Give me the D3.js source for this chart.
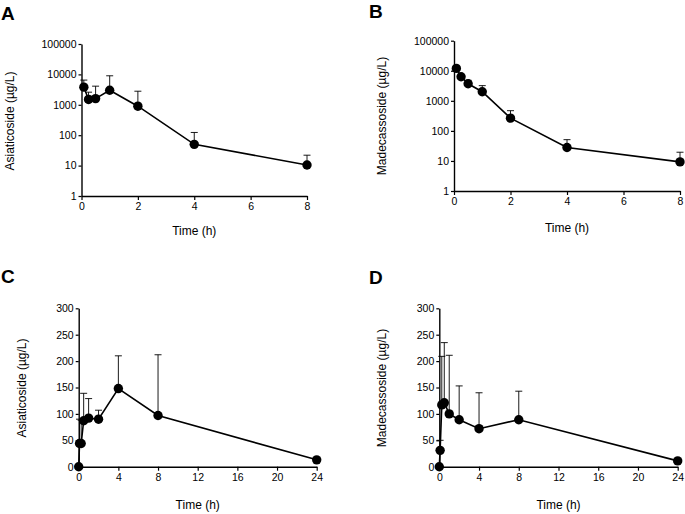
<!DOCTYPE html>
<html>
<head>
<meta charset="utf-8">
<script src="https://cdn.jsdelivr.net/npm/d3@7"></script>
<style>
  body { margin: 0; background: #fff; }
  text { font-family: Arial, "Liberation Sans", sans-serif; fill: #000; }
</style>
</head>
<body>
<div id="chart"></div>
<script>
// sampling times (h)
var timeIV = [0.083, 0.25, 0.5, 1, 2, 4, 8];
var timeOral = [0, 0.083, 0.25, 0.5, 1, 2, 4, 8, 24];

// A: asiaticoside, mean and SD
var asiaIV = [3800, 1500, 1600, 3000, 900, 50, 10.5];
var asiaIVsd = [2700, 1100, 2500, 6000, 1900, 73, 11.5];
// B: madecassoside
var madeIV = [12000, 6300, 3700, 2000, 265, 28, 9.3];
var madeIVsd = [1500, 700, 1100, 1200, 205, 23, 10.2];
// C: asiaticoside oral
var asiaOral = [0, 44, 44, 87, 92, 90, 148, 97, 13];
var asiaOralSd = [0, 46, 44, 52, 37, 17, 62, 115, 3];
// D: madecassoside oral
var madeOral = [0, 31, 117, 121, 100, 89, 72, 89, 11];
var madeOralSd = [0, 19, 92, 114, 111, 64, 68, 54, 2];

var logTicks = [1, 10, 100, 1000, 10000, 100000];
var shortTimeTicks = [0, 2, 4, 6, 8];
var longTimeTicks = [0, 4, 8, 12, 16, 20, 24];
var linTicks = [0, 50, 100, 150, 200, 250, 300];

var svg = d3.select("#chart")
  .append("svg")
  .attr("width", 685)
  .attr("height", 514);

function drawPanel(p) {
  var x = d3.scaleLinear().domain(p.xDomain).range([p.x0, p.x1]);
  var y = p.log
    ? d3.scaleLog().domain([1, 100000]).range([p.yBottom, p.yTop])
    : d3.scaleLinear().domain([0, 300]).range([p.yBottom, p.yTop]);

  var g = svg.append("g");

  // x axis
  var xAxis = g.append("g")
    .attr("transform", `translate(0, ${p.yBottom})`)
    .call(d3.axisBottom(x).tickValues(p.xTicks).tickSize(4).tickSizeOuter(0).tickPadding(3));
  // y axis
  var yAxis = g.append("g")
    .attr("transform", `translate(${p.x0}, 0)`)
    .call(d3.axisLeft(y).tickValues(p.yTicks).tickSize(3).tickSizeOuter(0).tickPadding(2)
      .tickFormat(d3.format("d")));

  [xAxis, yAxis].forEach(function(a) {
    a.select(".domain").attr("stroke", "#000").attr("stroke-width", 1.4);
    a.selectAll(".tick line").attr("stroke", "#000").attr("stroke-width", 1.2);
    a.selectAll(".tick text").attr("font-size", "10.5px").attr("fill", "#000")
      .attr("font-family", "Arial, 'Liberation Sans', sans-serif");
  });

  var data = p.time.map(function(t, i) {
    return {t: t, v: p.mean[i], sd: p.sd[i]};
  });

  // error bars (upper only)
  var eb = g.selectAll(null).data(data.filter(d => d.sd > 0)).enter().append("g");
  eb.append("line")
    .attr("x1", d => x(d.t)).attr("x2", d => x(d.t))
    .attr("y1", d => y(d.v)).attr("y2", d => y(d.v + d.sd))
    .attr("stroke", "#000").attr("stroke-width", 0.9);
  eb.append("line")
    .attr("x1", d => x(d.t) - 3.5).attr("x2", d => x(d.t) + 3.5)
    .attr("y1", d => y(d.v + d.sd)).attr("y2", d => y(d.v + d.sd))
    .attr("stroke", "#000").attr("stroke-width", 0.9);

  var line = d3.line().x(d => x(d.t)).y(d => y(d.v));
  g.append("path")
    .datum(data)
    .attr("d", line)
    .attr("fill", "none")
    .attr("stroke", "#000")
    .attr("stroke-width", 1.6);

  g.selectAll("circle").data(data).enter().append("circle")
    .attr("cx", d => x(d.t))
    .attr("cy", d => y(d.v))
    .attr("r", 4.7)
    .attr("fill", "#000");

  // axis titles
  g.append("text")
    .attr("transform", `translate(${p.yLabelX}, ${p.yLabelY}) rotate(-90)`)
    .attr("text-anchor", "middle")
    .attr("font-size", "12px")
    .text(p.yLabel);

  g.append("text")
    .attr("x", (p.x0 + p.x1) / 2)
    .attr("y", p.xLabelY)
    .attr("text-anchor", "middle")
    .attr("font-size", "12px")
    .text("Time (h)");

  // panel letter
  g.append("text")
    .attr("x", p.letterX)
    .attr("y", p.letterY)
    .attr("font-size", "19px")
    .attr("font-weight", "bold")
    .text(p.letter);
}

drawPanel({
  letter: "A", letterX: 1, letterY: 20,
  x0: 81.5, x1: 307, yTop: 44, yBottom: 196, log: true,
  xDomain: [0, 8], xTicks: shortTimeTicks, yTicks: logTicks,
  time: timeIV, mean: asiaIV, sd: asiaIVsd,
  yLabel: "Asiaticoside (µg/L)", yLabelX: 14, yLabelY: 121, xLabelY: 235
});
drawPanel({
  letter: "B", letterX: 369, letterY: 18,
  x0: 454, x1: 680, yTop: 40.7, yBottom: 191, log: true,
  xDomain: [0, 8], xTicks: shortTimeTicks, yTicks: logTicks,
  time: timeIV, mean: madeIV, sd: madeIVsd,
  yLabel: "Madecassoside (µg/L)", yLabelX: 386, yLabelY: 116, xLabelY: 232
});
drawPanel({
  letter: "C", letterX: 1, letterY: 283,
  x0: 78.7, x1: 316.7, yTop: 308.3, yBottom: 466.7, log: false,
  xDomain: [0, 24], xTicks: longTimeTicks, yTicks: linTicks,
  time: timeOral, mean: asiaOral, sd: asiaOralSd,
  yLabel: "Asiaticoside (µg/L)", yLabelX: 25.5, yLabelY: 388, xLabelY: 509
});
drawPanel({
  letter: "D", letterX: 369, letterY: 284,
  x0: 439.3, x1: 677.7, yTop: 308.3, yBottom: 466.7, log: false,
  xDomain: [0, 24], xTicks: longTimeTicks, yTicks: linTicks,
  time: timeOral, mean: madeOral, sd: madeOralSd,
  yLabel: "Madecassoside (µg/L)", yLabelX: 386, yLabelY: 388, xLabelY: 509
});
</script>
</body>
</html>
